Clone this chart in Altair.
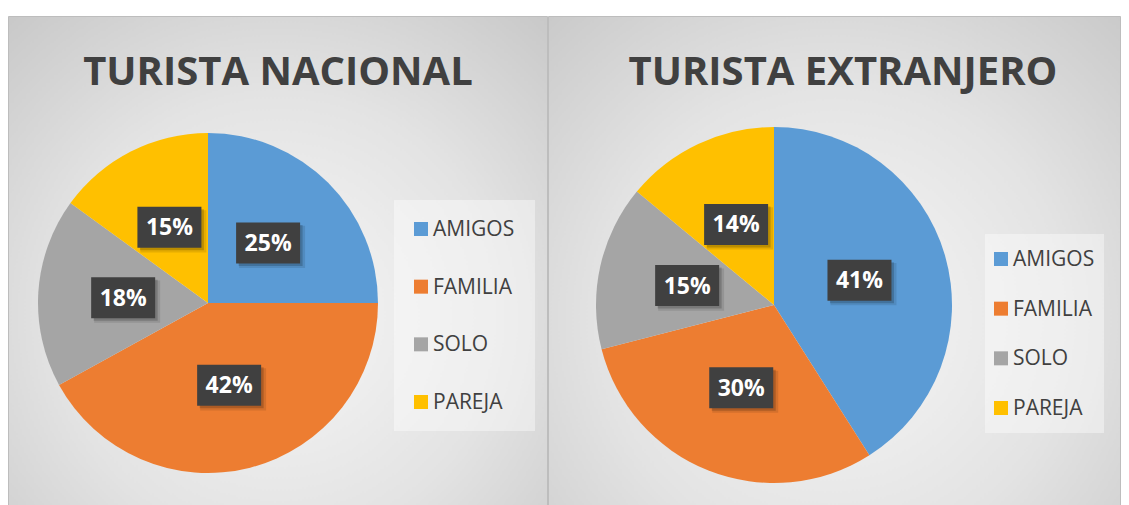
import altair as alt
import pandas as pd

categories = ["AMIGOS", "FAMILIA", "SOLO", "PAREJA"]
nacional = [25, 42, 18, 15]
extranjero = [41, 30, 15, 14]
colors = ["#5B9BD5", "#ED7D31", "#A5A5A5", "#FFC000"]
titles = ["TURISTA NACIONAL", "TURISTA EXTRANJERO"]

TITLE_FONT = "Open Sans"
BODY_FONT = "Open Sans"
BOX = "M-1,-0.64L1,-0.64L1,0.64L-1,0.64Z"

GRAD = alt.RadialGradient(
    gradient="radial", x1=0.5, y1=0.6, r1=0, x2=0.5, y2=0.6, r2=0.75,
    stops=[alt.GradientStop(offset=0, color="#f7f7f7"),
           alt.GradientStop(offset=0.55, color="#e3e3e3"),
           alt.GradientStop(offset=1, color="#c8c8c8")])


def frame(values):
    return pd.DataFrame({"cat": categories, "value": values,
                         "order": list(range(len(categories)))})


def panel(values, title, W, H, cx, cy, R, title_x, box, sq_x, txt_x, row0, row1):
    df = frame(values)
    base = alt.Chart(df)
    one = alt.Chart(alt.Data(values=[{"k": 1}]))
    cscale = alt.Scale(domain=categories, range=colors)

    bg = one.mark_rect(fill=GRAD, stroke="#bdbdbd", strokeWidth=1).encode(
        x=alt.value(0.5), x2=alt.value(W - 0.5), y=alt.value(8.5), y2=alt.value(H + 10))

    ttl = one.mark_text(text=title, font=TITLE_FONT, fontSize=40, fontWeight="bold",
                        color="#404040", align="center", baseline="alphabetic").encode(
        x=alt.value(title_x), y=alt.value(77))

    pie = base.mark_arc(radius=R).encode(
        theta=alt.Theta("value:Q", stack=True),
        color=alt.Color("cat:N", scale=cscale, legend=None),
        order=alt.Order("order:Q"),
        x=alt.value(cx), y=alt.value(cy))

    lab = base.transform_joinaggregate(total="sum(value)").transform_window(
        cum="sum(value)", sort=[alt.SortField("order")], frame=[None, 0]
    ).transform_calculate(
        mid="(datum.cum - datum.value / 2) / datum.total * 2 * PI"
    ).transform_calculate(
        lx="sin(datum.mid)", ly="cos(datum.mid)",
        pct="format(datum.value / datum.total, '.0%')")
    LR = R * 0.5
    xs = alt.X("lx:Q", scale=alt.Scale(domain=[-1, 1], range=[cx - LR, cx + LR], nice=False), axis=None)
    ys = alt.Y("ly:Q", scale=alt.Scale(domain=[-1, 1], range=[cy + LR, cy - LR], nice=False), axis=None)

    shadow1 = lab.mark_point(shape=BOX, size=66 ** 2, filled=True, color="#000000", opacity=0.10,
                             strokeWidth=0, xOffset=4, yOffset=4).encode(x=xs, y=ys)
    shadow2 = lab.mark_point(shape=BOX, size=64 ** 2, filled=True, color="#000000", opacity=0.18,
                             strokeWidth=0, xOffset=2.5, yOffset=2.5).encode(x=xs, y=ys)
    boxes = lab.mark_point(shape=BOX, size=64 ** 2, filled=True, color="#404040", opacity=1,
                           strokeWidth=0).encode(x=xs, y=ys)
    txt = lab.mark_text(font=BODY_FONT, fontWeight="bold", fontSize=23, color="#ffffff",
                        baseline="middle", align="center", dy=1).encode(x=xs, y=ys, text="pct:N")

    leg_bg = one.mark_rect(fill="#ffffff", opacity=0.4).encode(
        x=alt.value(box[0]), x2=alt.value(box[1]), y=alt.value(box[2]), y2=alt.value(box[3]))
    ly = alt.Y("order:Q", scale=alt.Scale(domain=[0, 3], range=[row0, row1], nice=False, zero=False), axis=None)
    sq = base.mark_square(size=14 * 14, opacity=1).encode(
        x=alt.value(sq_x), y=ly, color=alt.Color("cat:N", scale=cscale, legend=None))
    lt = base.mark_text(align="left", baseline="middle", font=BODY_FONT, fontSize=21,
                        color="#404040", dy=1).encode(x=alt.value(txt_x), y=ly, text="cat:N")

    return alt.layer(bg, ttl, pie, shadow1, shadow2, boxes, txt, leg_bg, sq, lt).resolve_scale(
        x="independent", y="independent").properties(width=W, height=H)


p1 = panel(nacional, titles[0], 540, 489, 200, 295, 170, 270,
           (386, 527, 192, 423), 413, 425, 221, 394)
p2 = panel(extranjero, titles[1], 573, 489, 226, 297, 178, 295,
           (437, 556, 226, 425), 453, 465, 251, 400)

chart = alt.hconcat(p1, p2, spacing=0).configure_view(stroke=None).properties(
    padding=0, background="#ffffff")

chart.save("out.html", embed_options={"renderer": "svg", "actions": False})
